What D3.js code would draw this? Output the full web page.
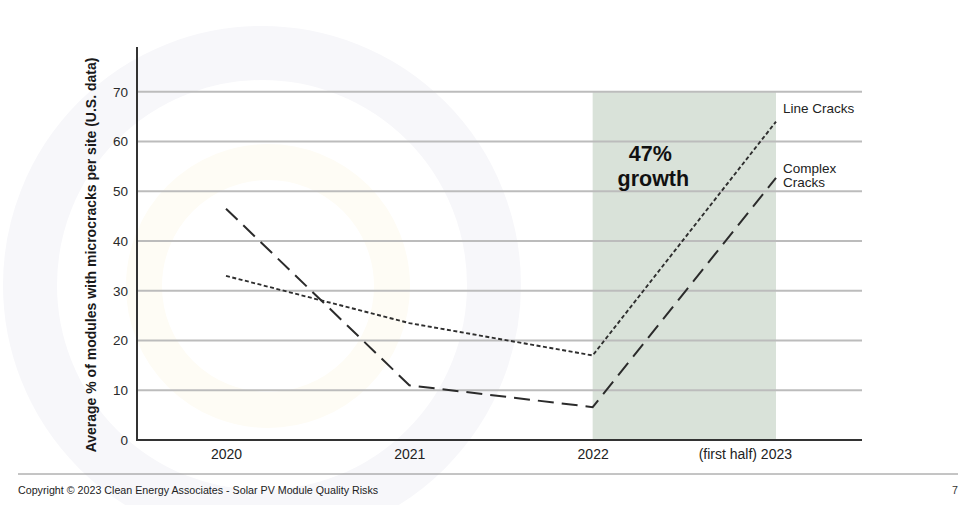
<!DOCTYPE html>
<html>
<head>
<meta charset="utf-8">
<script src="https://cdn.jsdelivr.net/npm/d3@7"></script>
<style>
  html, body { margin: 0; padding: 0; background: #ffffff; }
  svg { display: block; font-family: Arial, "Liberation Sans", Helvetica, sans-serif; }
</style>
</head>
<body>
<div id="chart"></div>
<script>
// ---- data ----
const categories = ["2020", "2021", "2022", "2023"];
const xTickLabels = ["2020", "2021", "2022", "(first half) 2023"];
const lineCracks = [33, 23.5, 17, 64];
const complexCracks = [46.5, 11, 6.6, 52.7];
const yTicks = [0, 10, 20, 30, 40, 50, 60, 70];
const seriesNames = ["Line Cracks", "Complex\nCracks"];
const highlightRange = ["2022", "2023"];
const highlightText = ["47%", "growth"];
const yTitle = "Average % of modules with microcracks per site (U.S. data)";
const footerText = "Copyright \u00A9 2023 Clean Energy Associates - Solar PV Module Quality Risks";
const pageNumber = "7";

// ---- setup ----
const W = 975, H = 505;
const svg = d3.select("#chart").append("svg").attr("width", W).attr("height", H);

// faint background watermark rings
const bg = svg.append("g");
bg.append("circle").attr("cx", 262).attr("cy", 285).attr("r", 232)
  .attr("fill", "none").attr("stroke", "#f7f7fa").attr("stroke-width", 54);
bg.append("circle").attr("cx", 268).attr("cy", 286).attr("r", 124)
  .attr("fill", "none").attr("stroke", "#fefcf5").attr("stroke-width", 36);

const plotLeft = 137, plotRight = 862, plotBottom = 440, plotTop = 47;

const x = d3.scalePoint().domain(categories).range([226, 776]);
const y = d3.scaleLinear().domain([0, 79]).range([plotBottom, plotTop]);

// highlight band
svg.append("rect")
  .attr("x", x(highlightRange[0]))
  .attr("width", x(highlightRange[1]) - x(highlightRange[0]))
  .attr("y", y(70))
  .attr("height", y(0) - y(70))
  .attr("fill", "#d9e2d9");

// gridlines
svg.append("g").selectAll("line").data(yTicks.filter(d => d > 0)).join("line")
  .attr("x1", plotLeft).attr("x2", plotRight)
  .attr("y1", d => y(d)).attr("y2", d => y(d))
  .attr("stroke", "#bcbcbc").attr("stroke-width", 2);

// y axis
const yAxis = d3.axisLeft(y).tickValues(yTicks).tickSize(0).tickPadding(9);
const gy = svg.append("g").attr("transform", `translate(${plotLeft},0)`).call(yAxis);
gy.select(".domain").remove();
gy.selectAll("text").attr("font-size", 13.5).attr("fill", "#2a2a2a")
  .attr("font-family", "Arial, 'Liberation Sans', sans-serif");
svg.append("line").attr("x1", plotLeft).attr("x2", plotLeft)
  .attr("y1", plotTop).attr("y2", plotBottom + 1)
  .attr("stroke", "#333").attr("stroke-width", 2);

// x axis
const xAxis = d3.axisBottom(x).tickSize(0).tickPadding(9)
  .tickFormat((d, i) => xTickLabels[i]);
const gx = svg.append("g").attr("transform", `translate(0,${plotBottom})`).call(xAxis);
gx.select(".domain").remove();
gx.selectAll("text").attr("font-size", 14).attr("fill", "#222")
  .attr("font-family", "Arial, 'Liberation Sans', sans-serif")
  .attr("text-anchor", (d, i) => i === categories.length - 1 ? "end" : "middle")
  .attr("dx", (d, i) => i === categories.length - 1 ? 15.5 : 0);
svg.append("line").attr("x1", plotLeft - 1).attr("x2", plotRight)
  .attr("y1", plotBottom).attr("y2", plotBottom)
  .attr("stroke", "#333").attr("stroke-width", 2);

// y title
svg.append("text")
  .attr("transform", `translate(96,255) rotate(-90)`)
  .attr("text-anchor", "middle")
  .attr("font-size", 14).attr("font-weight", "bold").attr("fill", "#1a1a1a")
  .text(yTitle);

// lines
const line = d3.line().x((d, i) => x(categories[i])).y(d => y(d));
svg.append("path").datum(lineCracks).attr("d", line)
  .attr("fill", "none").attr("stroke", "#2e2e2e").attr("stroke-width", 1.9)
  .attr("stroke-dasharray", "4,2.5");
svg.append("path").datum(complexCracks).attr("d", line)
  .attr("fill", "none").attr("stroke", "#2b2b2b").attr("stroke-width", 2)
  .attr("stroke-dasharray", "16,8");

// series labels
const last = categories[categories.length - 1];
svg.append("text").attr("x", x(last) + 7).attr("y", 113)
  .attr("font-size", 13.5).attr("fill", "#222").text(seriesNames[0]);
const cl = svg.append("text").attr("x", x(last) + 7).attr("y", 173)
  .attr("font-size", 13.5).attr("fill", "#222");
seriesNames[1].split("\n").forEach((t, i) => {
  cl.append("tspan").attr("x", x(last) + 7).attr("dy", i === 0 ? 0 : 13.5).text(t);
});

// highlight annotation
const hx = (x(highlightRange[0]) + x(highlightRange[1])) / 2 - 31;
svg.append("text").attr("x", hx - 3).attr("y", 161).attr("text-anchor", "middle")
  .attr("font-size", 21.5).attr("font-weight", "bold").attr("fill", "#111")
  .text(highlightText[0]);
svg.append("text").attr("x", hx).attr("y", 186).attr("text-anchor", "middle")
  .attr("font-size", 21.5).attr("font-weight", "bold").attr("fill", "#111")
  .text(highlightText[1]);

// footer
svg.append("line").attr("x1", 18).attr("x2", 958).attr("y1", 474).attr("y2", 474)
  .attr("stroke", "#8a8a8a").attr("stroke-width", 1);
svg.append("text").attr("x", 18).attr("y", 494).attr("font-size", 10.7)
  .attr("fill", "#222").text(footerText);
svg.append("text").attr("x", 958).attr("y", 494).attr("text-anchor", "end")
  .attr("font-size", 10.7).attr("fill", "#333").text(pageNumber);
</script>
</body>
</html>
